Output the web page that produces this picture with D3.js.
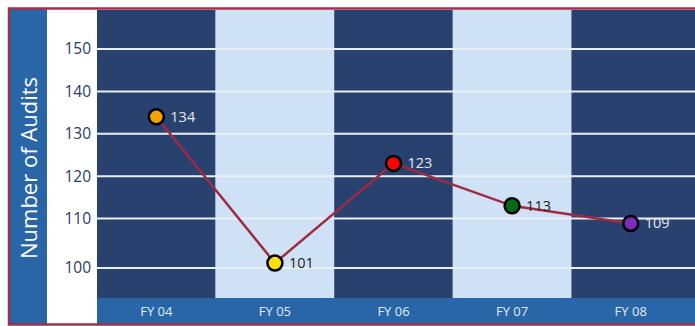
<!DOCTYPE html>
<html lang="en">
	<head>
		<meta charset="utf-8">
		<title>Number of Audits FY04 - FY08</title>
		<script src="https://d3js.org/d3.v7.min.js"></script>
		<style type="text/css">
			body {
				margin: 0;
				background: #ffffff;
			}
			* {
				font-family: 'Open Sans', sans-serif;
			}
		</style>
	</head>
	<body>
		<script type="text/javascript">

			//Width and height
			var w = 695;
			var h = 326;

			//data
			var years = ["FY 04", "FY 05", "FY 06", "FY 07", "FY 08"];
			var audits = [134, 101, 123, 113, 109];
			var dotColors = ["#f7a100", "#ffe000", "#ff0000", "#086b14", "#7a2bb8"];
			var yTicks = [100, 110, 120, 130, 140, 150];

			var plotLeft = 97, plotRight = 690, plotTop = 10, plotBottom = 298;

			var xScale = d3.scaleBand()
							.domain(years)
							.range([plotLeft, plotRight]);

			//the original spaces the 100 line a bit lower than the others
			var yScale = d3.scaleLinear()
							.domain([100, 110, 150])
							.range([268, 218.5, 49]);

			var svg = d3.select("body")
						.append("svg")
						.attr("width", w)
						.attr("height", h);

			//left title strip and white tick column
			svg.append("rect")
			   .attr("x", 9).attr("y", 9)
			   .attr("width", 38).attr("height", 316)
			   .attr("fill", "#2866a8");
			svg.append("rect")
			   .attr("x", 47).attr("y", 9)
			   .attr("width", plotLeft - 47).attr("height", 316)
			   .attr("fill", "#ffffff");

			//alternating column bands
			svg.selectAll("rect.band")
			   .data(years)
			   .enter()
			   .append("rect")
			   .attr("class", "band")
			   .attr("x", function(d) { return xScale(d); })
			   .attr("y", plotTop)
			   .attr("width", function(d, i) {
			   		return i == years.length - 1 ? w - xScale(d) : xScale.bandwidth();
			   })
			   .attr("height", plotBottom - plotTop)
			   .attr("fill", function(d, i) { return i % 2 == 0 ? "#29416f" : "#cfe2f5"; });

			//bottom axis strip
			svg.append("rect")
			   .attr("x", plotLeft).attr("y", plotBottom)
			   .attr("width", w - plotLeft).attr("height", 325 - plotBottom)
			   .attr("fill", "#2866a8");

			//gridlines
			svg.selectAll("line.grid")
			   .data(yTicks)
			   .enter()
			   .append("line")
			   .attr("class", "grid")
			   .attr("x1", plotLeft).attr("x2", w)
			   .attr("y1", function(d) { return yScale(d); })
			   .attr("y2", function(d) { return yScale(d); })
			   .attr("stroke", "#e9f0f8")
			   .attr("stroke-width", 2);

			//y axis labels
			var yAxis = d3.axisLeft(yScale)
						  .tickValues(yTicks)
						  .tickSize(0)
						  .tickPadding(0);
			var gy = svg.append("g")
						.attr("transform", "translate(91,0)")
						.call(yAxis);
			gy.select(".domain").remove();
			gy.selectAll("text")
			  .attr("fill", "#2b3a66")
			  .attr("font-size", "15.5px")
			  .style("font-family", "'Open Sans', sans-serif");

			//x axis labels
			var xAxis = d3.axisBottom(xScale).tickSize(0).tickPadding(0);
			var gx = svg.append("g")
						.attr("transform", "translate(0," + plotBottom + ")")
						.call(xAxis);
			gx.select(".domain").remove();
			gx.selectAll("text")
			  .attr("y", 9)
			  .attr("fill", "#e2ebf7")
			  .attr("font-size", "13px")
			  .style("font-family", "'Open Sans', sans-serif");

			//axis title
			svg.append("text")
			   .attr("transform", "translate(37,168) rotate(-90)")
			   .attr("text-anchor", "middle")
			   .attr("fill", "#ffffff")
			   .attr("font-size", "22px")
			   .text("Number of Audits");

			//line
			var line = d3.line()
						 .x(function(d, i) { return xScale(years[i]) + xScale.bandwidth() / 2; })
						 .y(function(d) { return yScale(d); });

			svg.append("path")
			   .datum(audits)
			   .attr("d", line)
			   .attr("fill", "none")
			   .attr("stroke", "#a12a42")
			   .attr("stroke-width", 2.5);

			//dots
			svg.selectAll("circle")
			   .data(audits)
			   .enter()
			   .append("circle")
			   .attr("cx", function(d, i) { return xScale(years[i]) + xScale.bandwidth() / 2; })
			   .attr("cy", function(d) { return yScale(d); })
			   .attr("r", 7.5)
			   .attr("fill", function(d, i) { return dotColors[i]; })
			   .attr("stroke", "#000000")
			   .attr("stroke-width", 2.5);

			//value labels
			svg.selectAll("text.value")
			   .data(audits)
			   .enter()
			   .append("text")
			   .attr("class", "value")
			   .attr("x", function(d, i) { return xScale(years[i]) + xScale.bandwidth() / 2 + 14; })
			   .attr("y", function(d) { return yScale(d) + 5; })
			   .attr("font-size", "14.5px")
			   .attr("fill", function(d, i) { return i % 2 == 0 ? "#e3e8f0" : "#222222"; })
			   .text(function(d) { return d; });

			//outer frame
			svg.append("rect")
			   .attr("x", 9).attr("y", 8.5)
			   .attr("width", w).attr("height", 316)
			   .attr("fill", "none")
			   .attr("stroke", "#a3304a")
			   .attr("stroke-width", 2.5);
		</script>
	</body>
</html>
